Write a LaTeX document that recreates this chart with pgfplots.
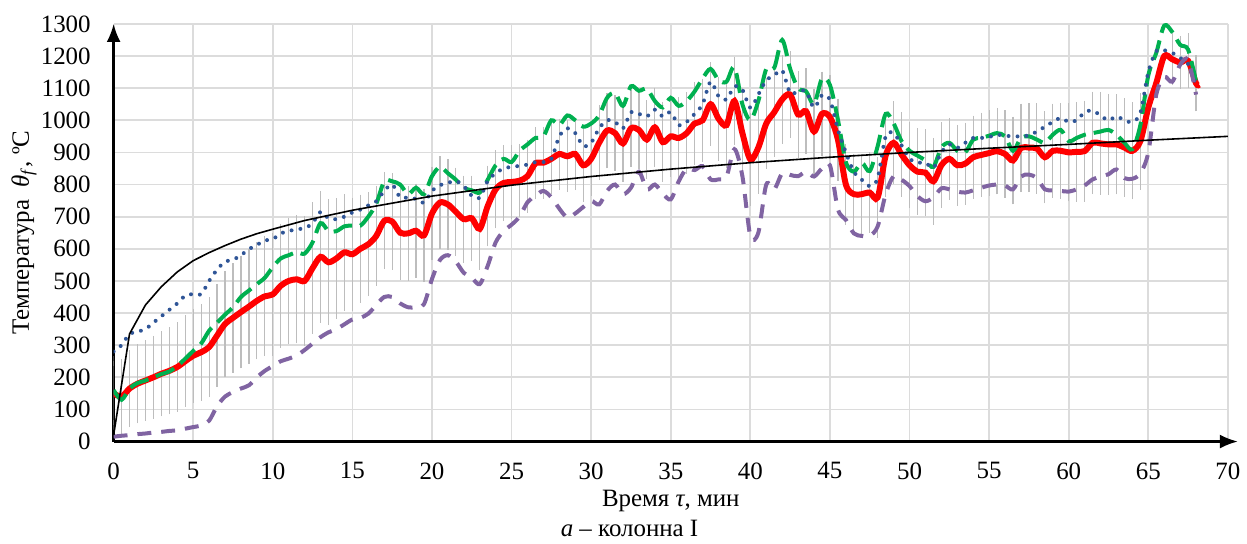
\documentclass[border=0pt]{standalone}
\usepackage{fontspec}
\setmainfont{Liberation Serif}
\usepackage{pgfplots}
\usepackage{pgfplotstable}
\pgfplotsset{compat=1.18}
\usetikzlibrary{arrows.meta}

\definecolor{cRed}{HTML}{FF0000}
\definecolor{cGreen}{HTML}{00B050}
\definecolor{cBlue}{HTML}{2F5597}
\definecolor{cPurple}{HTML}{8064A2}
\definecolor{cErr}{HTML}{BDBDBD}
\definecolor{cGrid}{HTML}{DCDCDC}
\newcommand\f{\fontsize{12.5}{14}\selectfont}

% mean (red) with error
\pgfplotstableread{
t T e
0 150 100
0.5 140 102
1 165 105
1.5 180 108
2 190 110
2.5 200 113
3 211 117
3.5 220 120
4 232 124
4.5 250 127
5 267 130
5.5 278 135
6 294 140
6.5 330 145
7 366 150
7.5 385 155
8 403 160
8.5 420 163
9 438 167
9.5 452 171
10 458 175
10.5 485 178
11 500 181
11.5 505 184
12 500 187
12.5 540 189
13 575 190
13.5 558 180
14 570 172
14.5 589 166
15 583 160
15.5 600 153
16 614 146
16.5 640 140
17 687 135
17.5 685 134
18 650 133
18.5 648 132
19 656 131
19.5 642 130
20 710 130
20.5 744 128
21 738 125
21.5 715 122
22 692 120
22.5 695 117
23 662 113
23.5 733 110
24 785 106
24.5 805 103
25 808 100
25.5 812 99
26 826 98
26.5 866 97
27 868 96
27.5 880 95
28 895 95
28.5 888 96
29 895 97
29.5 860 99
30 880 100
30.5 930 101
31 968 102
31.5 960 103
32 928 104
32.5 975 105
33 970 106
33.5 940 107
34 978 108
34.5 932 109
35 950 110
35.5 945 111
36 960 112
36.5 990 113
37 1000 114
37.5 1050 115
38 1005 115
38.5 985 118
39 1060 122
39.5 960 126
40 878 130
40.5 915 128
41 990 126
41.5 1025 124
42 1065 122
42.5 1080 120
43 1018 119
43.5 1028 118
44 965 117
44.5 1020 116
45 1010 115
45.5 940 112
46 800 111
46.5 770 110
47 770 110
47.5 775 110
48 760 110
48.5 890 112
49 930 114
49.5 893 116
50 860 118
50.5 840 119
51 837 120
51.5 810 120
52 860 118
52.5 880 112
53 860 110
53.5 865 112
54 885 114
54.5 892 116
55 898 118
55.5 904 119
56 895 120
56.5 875 121
57 914 122
57.5 915 123
58 912 125
58.5 885 128
59 905 131
59.5 905 134
60 900 137
60.5 902 140
61 904 142
61.5 930 144
62 928 145
62.5 925 142
63 925 140
63.5 915 138
64 905 136
64.5 935 135
65 1040 0
65.5 1116 0
66 1200 0
66.5 1190 0
67 1180 0
67.5 1185 0
68 1115 0
68.2 1111 0
}\meanT

% upper (green)
\pgfplotstableread{
t T
0 160
0.5 130
1 165
1.5 182
2 190
2.5 200
3 210
3.5 218
4 235
4.5 258
5 282
5.5 305
6 345
6.5 370
7 395
7.5 418
8 450
8.5 470
9 490
9.5 510
10 543
10.5 570
11 580
11.5 589
12 585
12.5 620
13 680
13.5 655
14 655
14.5 670
15 672
15.5 672
16 700
16.5 740
17 810
17.5 810
18 800
18.5 770
19 790
19.5 770
20 826
20.5 855
21 835
21.5 815
22 790
22.5 782
23 775
23.5 815
24 860
24.5 880
25 870
25.5 905
26 925
26.5 945
27 950
27.5 1000
28 985
28.5 1015
29 1000
29.5 980
30 990
30.5 1015
31 1070
31.5 1085
32 1045
32.5 1106
33 1092
33.5 1098
34 1060
34.5 1040
35 1070
35.5 1045
36 1060
36.5 1090
37 1130
37.5 1160
38 1125
38.5 1120
39 1165
39.5 1050
40 1000
40.5 1060
41 1160
41.5 1163
42 1250
42.5 1160
43 1100
43.5 1090
44 1050
44.5 1130
45 1110
45.5 1002
46 870
46.5 840
47 868
47.5 842
48 920
48.5 1020
49 990
49.5 935
50 905
50.5 890
51 875
51.5 855
52 915
52.5 930
53 905
53.5 900
54 940
54.5 945
55 952
55.5 960
56 950
56.5 905
57 945
57.5 950
58 940
58.5 930
59 955
59.5 970
60 935
60.5 945
61 955
61.5 960
62 965
62.5 970
63 955
63.5 930
64 910
64.5 985
65 1140
65.5 1210
66 1295
66.5 1275
67 1235
67.5 1220
68 1120
}\maxT

% blue dotted
\pgfplotstableread{
t T
0 280
0.5 300
1 335
1.5 342
2 350
2.5 370
3 390
3.5 410
4 430
4.5 454
5 459
5.5 459
6 500
6.5 535
7 560
7.5 566
8 580
8.5 599
9 612
9.5 626
10 630
10.5 648
11 655
11.5 661
12 664
12.5 680
13 715
13.5 695
14 692
14.5 700
15 713
15.5 722
16 735
16.5 748
17 780
17.5 800
18 760
18.5 760
19 755
19.5 744
20 780
20.5 798
21 805
21.5 811
22 795
22.5 765
23 759
23.5 811
24 835
24.5 850
25 855
25.5 858
26 862
26.5 870
27 870
27.5 880
28 950
28.5 975
29 960
29.5 920
30 930
30.5 975
31 1000
31.5 995
32 975
32.5 1025
33 1020
33.5 1012
34 1033
34.5 1012
35 1025
35.5 985
36 995
36.5 1020
37 1050
37.5 1120
38 1075
38.5 1065
39 1105
39.5 1095
40 1039
40.5 1080
41 1125
41.5 1140
42 1155
42.5 1085
43 1090
43.5 1090
44 1039
44.5 1078
45 1064
45.5 971
46 900
46.5 840
47 815
47.5 795
48 820
48.5 950
49 960
49.5 922
50 880
50.5 868
51 868
51.5 852
52 900
52.5 925
53 914
53.5 930
54 945
54.5 945
55 948
55.5 955
56 952
56.5 950
57 950
57.5 953
58 965
58.5 980
59 995
59.5 1007
60 995
60.5 1000
61 1025
61.5 1030
62 1015
62.5 1000
63 1012
63.5 1000
64 995
64.5 1023
65 1150
65.5 1215
66 1218
66.5 1210
67 1194
67.5 1175
68 1106
}\dotT

% lower (purple)
\pgfplotstableread{
t T
0 15
0.5 18
1 20
1.5 23
2 25
2.5 28
3 30
3.5 33
4 35
4.5 40
5 45
5.5 50
6 65
6.5 110
7 140
7.5 154
8 165
8.5 175
9 200
9.5 220
10 235
10.5 250
11 258
11.5 268
12 285
12.5 305
13 325
13.5 340
14 350
14.5 365
15 380
15.5 385
16 398
16.5 425
17 450
17.5 450
18 430
18.5 418
19 418
19.5 428
20 506
20.5 565
21 580
21.5 560
22 525
22.5 510
23 490
23.5 547
24 620
24.5 655
25 675
25.5 700
26 745
26.5 765
27 780
27.5 760
28 725
28.5 697
29 710
29.5 730
30 749
30.5 738
31 780
31.5 800
32 770
32.5 790
33 840
33.5 785
34 800
34.5 772
35 754
35.5 810
36 850
36.5 845
37 857
37.5 816
38 816
38.5 824
39 910
39.5 826
40 640
40.5 650
41 800
41.5 785
42 835
42.5 830
43 826
43.5 840
44 825
44.5 850
45 860
45.5 723
46 690
46.5 648
47 640
47.5 640
48 670
48.5 770
49 826
49.5 815
50 795
50.5 764
51 748
51.5 760
52 788
52.5 785
53 778
53.5 775
54 782
54.5 790
55 797
55.5 800
56 797
56.5 785
57 825
57.5 831
58 820
58.5 785
59 782
59.5 780
60 778
60.5 785
61 797
61.5 816
62 825
62.5 832
63 847
63.5 820
64 818
64.5 835
65 900
65.5 1080
66 1135
66.5 1120
67 1173
67.5 1188
68 1080
}\minT

% standard fire curve (black)
\pgfplotstableread{
t T
0 20
1 335
2 425
3 482
4 528
5 563
6 588
7 610
8 630
9 647
10 661
12 688
15 720
20 764
25 798
30 825
35 848
40 868
45 885
50 900
55 913
60 925
65 938
70 950
}\isoT

\begin{document}
\begin{tikzpicture}
\begin{axis}[
  scale only axis, width=559pt, height=209.5pt,
  xmin=0, xmax=70, ymin=0, ymax=1300,
  axis lines=left,
  axis line style={line width=1.2pt, -{Latex[length=9pt,width=7pt]}},
  x axis line style={shorten >=-5pt},
  xtick={0,5,...,70}, ytick={0,100,...,1300},
  major tick length=0pt,
  grid=major, grid style={line width=0.9pt, draw=cGrid},
  tick label style={font=\f},
  xticklabel style={yshift=-7pt},
  yticklabel style={xshift=-8pt},
  /pgf/number format/assume math mode=true,
  /pgf/number format/1000 sep={},
  xlabel={Время \textit{τ}, мин},
  ylabel={Температура\ \ \textit{θ}\textsubscript{\textit{f}}, ºC},
  every axis x label/.style={at={(rel axis cs:0.5,0)}, anchor=center, yshift=-30pt, font=\f},
  every axis y label/.style={at={(rel axis cs:0,0.5)}, anchor=center, xshift=-45pt, rotate=90, font=\f},
]
% error bars of the mean
\addplot[draw=none, mark=none, forget plot, restrict x to domain=0:64.6,
  error bars/.cd, y dir=both, y explicit,
  error bar style={line width=0.6pt, draw=cErr},
  error mark options={draw=cErr, line width=0.6pt, mark size=2.5pt}]
  table[x=t, y=T, y error=e] {\meanT};
\addplot[draw=none, mark=none, forget plot,
  error bars/.cd, y dir=both, y explicit,
  error bar style={line width=0.6pt, draw=cErr},
  error mark options={draw=cErr, line width=0.6pt, mark size=2.5pt}]
  table[x=t, y=T, y error=e] {
t T e
66.5 1190 65
67 1180 67
67.5 1185 70
68 1115 72
};
\addplot[cRed, line width=3pt, smooth, tension=0.5] table[x=t, y=T] {\meanT};
\addplot[cGreen, line width=2pt, smooth, tension=0.5, dash pattern=on 10pt off 4pt] table[x=t, y=T] {\maxT};
\addplot[cBlue, line width=2pt, smooth, tension=0.5, line cap=round, dash pattern=on 0pt off 4.5pt] table[x=t, y=T] {\dotT};
\addplot[cPurple, line width=2pt, smooth, tension=0.5, dash pattern=on 7pt off 5pt] table[x=t, y=T] {\minT};
\addplot[black, line width=0.8pt] table[x=t, y=T] {\isoT};
\coordinate (bl) at (rel axis cs:0,0);
\coordinate (tr) at (rel axis cs:1,1);
\end{axis}
\node[font=\f, anchor=center] at ([shift={(258.8pt,-43.5pt)}]bl) {\textit{a} – колонна I};
\path ([shift={(-57pt,-50.5pt)}]bl) rectangle ([shift={(7.5pt,12pt)}]tr);
\end{tikzpicture}
\end{document}
